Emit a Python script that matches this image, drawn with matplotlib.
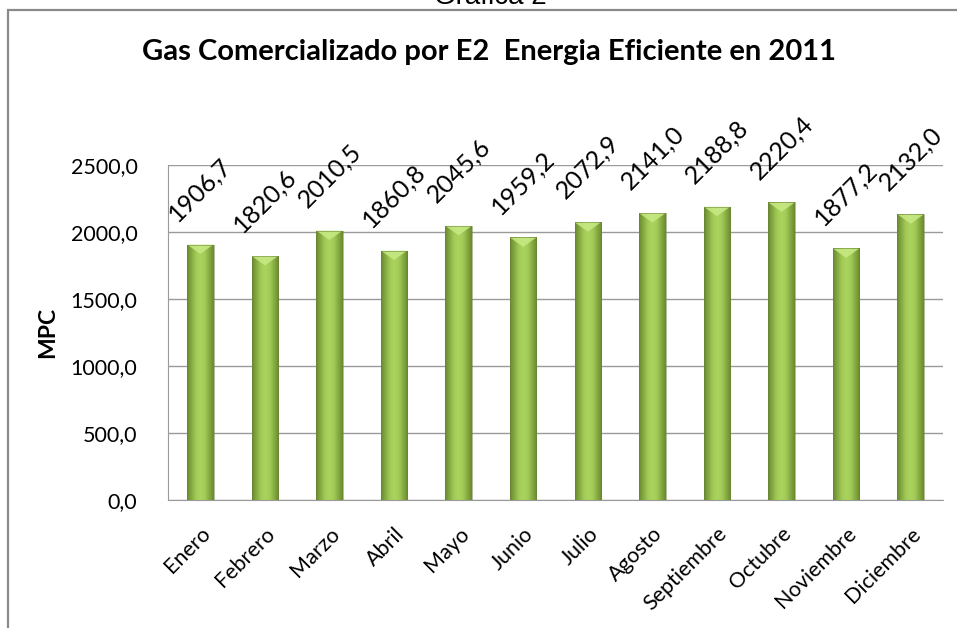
import matplotlib.pyplot as plt
import numpy as np
from matplotlib.patches import Rectangle, Polygon
from matplotlib.colors import LinearSegmentedColormap

# Data
meses = ['Enero', 'Febrero', 'Marzo', 'Abril', 'Mayo', 'Junio', 'Julio',
         'Agosto', 'Septiembre', 'Octubre', 'Noviembre', 'Diciembre']
gas_mpc = [1906.7, 1820.6, 2010.5, 1860.8, 2045.6, 1959.2, 2072.9,
           2141.0, 2188.8, 2220.4, 1877.2, 2132.0]
y_ticks = [0, 500, 1000, 1500, 2000, 2500]

W, H = 957, 628
fig = plt.figure(figsize=(W / 100, H / 100), dpi=100)
fig.patch.set_facecolor('white')

# outer chart frame (runs off the right/bottom edge)
fig.patches.append(Rectangle((8 / W, -0.1), 1.2, 1 - 10 / H + 0.1,
                             transform=fig.transFigure, fill=False,
                             edgecolor='#8a8a8a', lw=1.6))
fig.text(490 / W, 1 - 4 / H, 'Gráfica 2', ha='center', va='baseline',
         fontsize=20, family='Liberation Sans')
fig.text(489 / W, 1 - 60 / H, 'Gas Comercializado por E2  Energia Eficiente en 2011',
         ha='center', va='baseline', fontsize=21, fontweight='bold', family='Lato')

ax = fig.add_axes([168 / W, 1 - 500 / H, (943 - 168) / W, (500 - 165) / H])
x = np.arange(len(meses))
bw = 0.41
bars = ax.bar(x, gas_mpc, width=bw, color='#8cb346', zorder=2)

cmap = LinearSegmentedColormap.from_list(
    'g', ['#6b8a2e', '#86ab42', '#a3cb58', '#aad45e', '#a3cb58', '#86ab42', '#6b8a2e'])
grad = np.linspace(0, 1, 64)[None, :] * np.ones((32, 1))
for b, v in zip(bars, gas_mpc):
    x0 = b.get_x()
    im = ax.imshow(grad, cmap=cmap, extent=[x0, x0 + bw, 0, v], aspect='auto',
                   origin='lower', zorder=3)
    im.set_clip_path(b)
    # light bevel at the top of each bar
    ax.add_patch(Polygon([[x0, v], [x0 + bw, v], [x0 + bw / 2, v - 70]], closed=True,
                         facecolor='#c8ea85', edgecolor='none', alpha=0.85, zorder=4))
    ax.add_patch(Rectangle((x0, 0), bw, v, fill=False, edgecolor='#6a7f3a',
                           lw=0.6, alpha=0.6, zorder=5))
    ax.annotate(f'{v:.1f}'.replace('.', ','), (b.get_x() + bw / 2, v),
                xytext=(0, 14), textcoords='offset points', rotation=45,
                ha='center', va='bottom', fontsize=18, family='Lato')

ax.set_xlim(-0.5, len(meses) - 0.5)
ax.set_ylim(0, 2500)
ax.set_yticks(y_ticks)
ax.set_yticklabels([f'{t:.1f}'.replace('.', ',') for t in y_ticks],
                   fontsize=15.5, family='Lato')
ax.set_xticks(x)
ax.set_xticklabels(meses, rotation=45, ha='right', rotation_mode='anchor',
                   fontsize=15.5, family='Lato')
ax.tick_params(axis='y', length=0, pad=22)
ax.tick_params(axis='x', length=0, pad=17)
ax.yaxis.grid(True, color='#9a9a9a', lw=1, zorder=0)
ax.set_axisbelow(True)
for s in ['top', 'right']:
    ax.spines[s].set_visible(False)
for s in ['left', 'bottom']:
    ax.spines[s].set_color('#9a9a9a')
ax.set_ylabel('MPC', fontsize=16.5, fontweight='bold', family='Lato', labelpad=9)

fig.savefig('out.png', dpi=100)
